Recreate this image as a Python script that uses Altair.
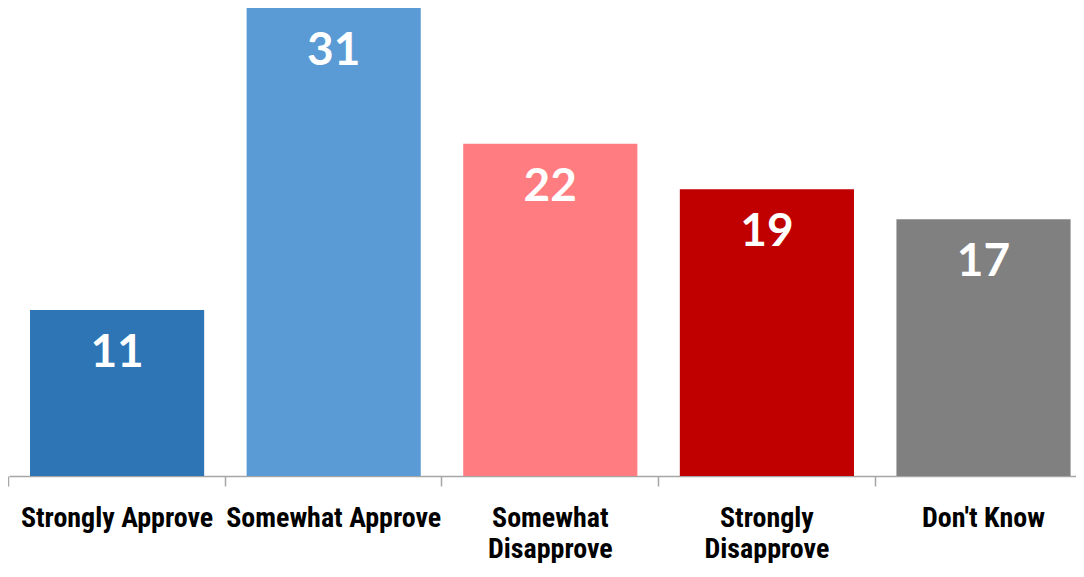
import altair as alt
import pandas as pd

categories = ["Strongly Approve", "Somewhat Approve", "Somewhat Disapprove",
              "Strongly Disapprove", "Don't Know"]
values = [11, 31, 22, 19, 17]
colors = ["#2E75B6", "#5B9BD5", "#FF7C80", "#C00000", "#808080"]

df = pd.DataFrame({"category": categories, "value": values})

label_font = "Roboto Condensed, Roboto, sans-serif"

xscale = alt.Scale(paddingInner=0.196, paddingOuter=0.061, align=0.795)
yscale = alt.Scale(domain=[0, 31], nice=False)

x = alt.X(
    "category:N",
    sort=categories,
    scale=xscale,
    axis=alt.Axis(
        title=None,
        labelAngle=0,
        labelFont=label_font,
        labelFontSize=28,
        labelFontWeight="bold",
        labelColor="#000000",
        labelPadding=18,
        labelLineHeight=31,
        labelLimit=300,
        ticks=True,
        tickSize=10,
        tickColor="#A6A6A6",
        tickWidth=1.5,
        domainColor="#A6A6A6",
        domainWidth=1.5,
        bandPosition=-0.122,
        labelExpr="indexof(datum.value, 'Disapprove') > 0 ? split(datum.value, ' ') : datum.value",
    ),
)
y = alt.Y("value:Q", scale=yscale, axis=None)

bars = alt.Chart(df).mark_bar().encode(
    x=x,
    y=y,
    color=alt.Color("category:N", scale=alt.Scale(domain=categories, range=colors), legend=None),
)

labels = alt.Chart(df).mark_text(
    dy=43, baseline="middle", align="center", color="white",
    fontSize=46, fontWeight="bold", font="Lato, Liberation Sans, sans-serif",
).encode(
    x=alt.X("category:N", sort=categories, scale=xscale),
    y=alt.Y("value:Q", scale=yscale),
    text="value:Q",
)

chart = (bars + labels).properties(
    width=1067, height=468,
    autosize=alt.AutoSizeParams(type="none"),
    padding={"left": 1, "top": 0, "right": 0, "bottom": 87},
).configure_view(stroke=None).configure_axis(grid=False)

chart.save("out.html", embed_options={"renderer": "svg", "actions": False})
